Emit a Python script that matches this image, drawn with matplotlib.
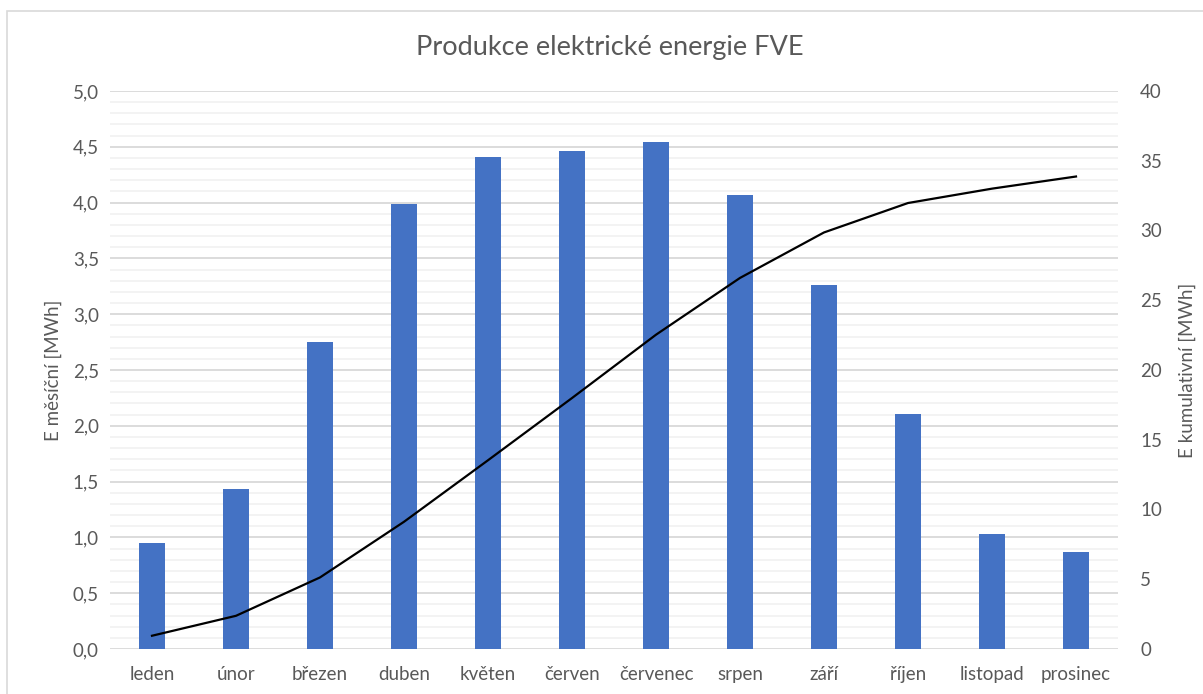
import numpy as np
import matplotlib
matplotlib.use("Agg")
import matplotlib.pyplot as plt
from matplotlib.patches import Rectangle
from matplotlib.ticker import MultipleLocator, FuncFormatter

months = ["leden", "únor", "březen", "duben", "květen", "červen",
          "červenec", "srpen", "září", "říjen", "listopad", "prosinec"]
monthly_mwh = [0.95, 1.43, 2.75, 3.99, 4.41, 4.46, 4.54, 4.07, 3.26, 2.11, 1.03, 0.87]
cumulative_mwh = np.cumsum(monthly_mwh)

left_ticks = np.arange(0, 5.01, 0.5)
right_ticks = np.arange(0, 41, 5)

plt.rcParams["font.family"] = ["Lato", "DejaVu Sans"]
text_color = "#595959"

W, H = 1203, 694
fig = plt.figure(figsize=(W / 100, H / 100), dpi=100)
ax = fig.add_axes([110 / W, 1 - 649 / H, (1118 - 110) / W, (649 - 91) / H])

x = np.arange(len(months))
ax.bar(x, monthly_mwh, width=0.31, color="#4472C4", zorder=3)
ax.set_xlim(-0.5, len(months) - 0.5)
ax.set_ylim(0, 5)
ax.yaxis.set_major_locator(MultipleLocator(0.5))
ax.yaxis.set_minor_locator(MultipleLocator(0.1))
ax.yaxis.set_major_formatter(FuncFormatter(lambda v, p: f"{v:.1f}".replace(".", ",")))
ax.grid(axis="y", which="major", color="#d9d9d9", linewidth=1.3, zorder=0)
ax.grid(axis="y", which="minor", color="#f0f0f0", linewidth=1.1, zorder=0)
ax.set_axisbelow(True)
ax.set_xticks(x)
ax.set_xticklabels(months)
for s in ax.spines.values():
    s.set_visible(False)
ax.tick_params(axis="both", which="both", length=0, colors=text_color, labelsize=13.5)
ax.tick_params(axis="x", pad=12)
ax.tick_params(axis="y", pad=8)
ax.set_ylabel("E měsíční [MWh]", color=text_color, fontsize=13.5, labelpad=8)

ax2 = ax.twinx()
ax2.plot(x, cumulative_mwh, color="black", linewidth=1.6, zorder=4)
ax2.set_ylim(0, 40)
ax2.set_yticks(right_ticks)
for s in ax2.spines.values():
    s.set_visible(False)
ax2.tick_params(axis="y", length=0, colors=text_color, labelsize=13.5, pad=16)
ax2.set_ylabel("E kumulativní [MWh]", color=text_color, fontsize=13.5, labelpad=12)

fig.text(610 / W, 1 - 47 / H, "Produkce elektrické energie FVE",
         ha="center", va="center", fontsize=19.5, color=text_color)

fig.patches.append(Rectangle((7 / W, -0.01), 1.02, 1 - 11 / H + 0.01,
                             transform=fig.transFigure, fill=False,
                             edgecolor="#d9d9d9", linewidth=1.2))

fig.savefig("out.png", dpi=100)
